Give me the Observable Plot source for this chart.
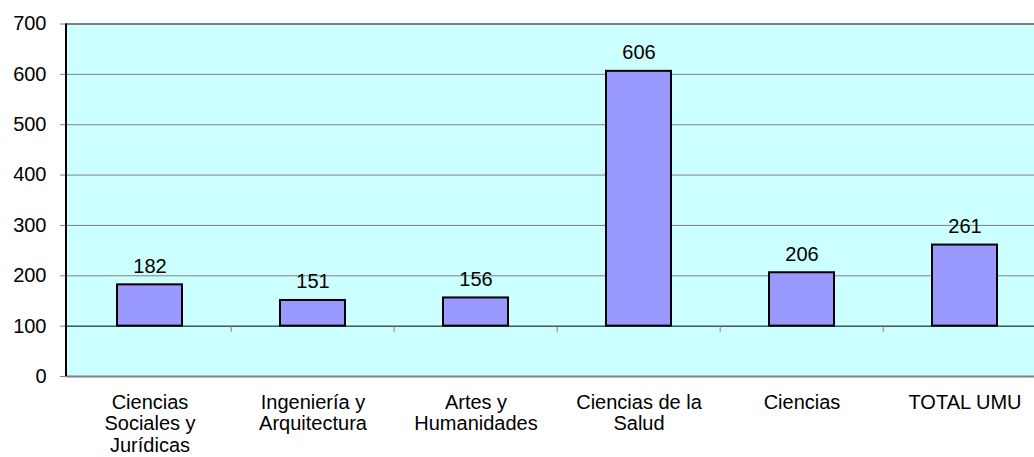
<!DOCTYPE html>
<html>
<head>
<meta charset="utf-8">
<script src="https://cdn.jsdelivr.net/npm/d3@7"></script>
<script src="https://cdn.jsdelivr.net/npm/@observablehq/plot@0.6"></script>
<style>
  html, body { margin: 0; padding: 0; background: #ffffff; overflow: hidden; }
  #chart svg { display: block; }
</style>
</head>
<body>
<div id="chart"></div>
<script>
const categories = [
  "Ciencias\nSociales y\nJurídicas",
  "Ingeniería y\nArquitectura",
  "Artes y\nHumanidades",
  "Ciencias de la\nSalud",
  "Ciencias",
  "TOTAL UMU"
];
const values = [182, 151, 156, 606, 206, 261];
const yTicks = [0, 100, 200, 300, 400, 500, 600, 700];
const baseValue = 100;

const data = categories.map((c, i) => ({category: c, value: values[i]}));

const W = 1034, H = 457;
const mLeft = 66, mTop = 23.5, mBottom = 81;
const xRange = [66, 1048];
const padInner = 0.6, padOuter = 0.3;
const step = (xRange[1] - xRange[0]) / (categories.length - padInner + 2 * padOuter);
const font = "'Liberation Sans', Arial, sans-serif";

const chart = Plot.plot({
  width: W,
  height: H,
  marginLeft: mLeft,
  marginRight: 0,
  marginTop: mTop,
  marginBottom: mBottom,
  style: {fontFamily: font, fontSize: "20px", color: "#000", background: "#ffffff"},
  x: {domain: categories, range: xRange, paddingInner: padInner, paddingOuter: padOuter, axis: null},
  y: {domain: [0, 700], axis: null},
  marks: [
    Plot.frame({fill: "#CCFFFF", stroke: null}),
    Plot.ruleY(yTicks.filter(d => d > baseValue && d < 700), {stroke: "#808080", strokeWidth: 1}),
    Plot.ruleY([700], {stroke: "#808080", strokeWidth: 2}),
    Plot.ruleY([0], {stroke: "#808080", strokeWidth: 2}),
    Plot.ruleY([baseValue], {stroke: "#000", strokeWidth: 1}),
    Plot.ruleX(categories.slice(1), {x: d => d, dx: -step / 2, y1: baseValue, y2: baseValue - 12, stroke: "#808080", strokeWidth: 1}),
    Plot.rectY(data, {x: "category", y1: baseValue, y2: "value", fill: "#9999FF", stroke: "#000", strokeWidth: 2}),
    Plot.text(data, {x: "category", y: "value", text: d => String(d.value), dy: -12, lineAnchor: "bottom", fontSize: 20, fill: "#000"}),
    Plot.axisY({ticks: yTicks, tickSize: 6, tickPadding: 14, fontSize: 20, label: null, stroke: "#808080", fill: "#000"}),
    Plot.axisX({tickSize: 0, tickPadding: 17, fontSize: 20, lineHeight: 1.08, label: null, fill: "#000"})
  ]
});

document.getElementById("chart").appendChild(chart);

// black value-axis line at the left edge of the plot, placed via the chart's scales
const xs = chart.scale("x"), ys = chart.scale("y");
d3.select(chart).append("line")
  .attr("x1", xs.range[0]).attr("x2", xs.range[0])
  .attr("y1", ys.apply(ys.domain[0])).attr("y2", ys.apply(ys.domain[1]))
  .attr("stroke", "#000").attr("stroke-width", 2);
</script>
</body>
</html>
